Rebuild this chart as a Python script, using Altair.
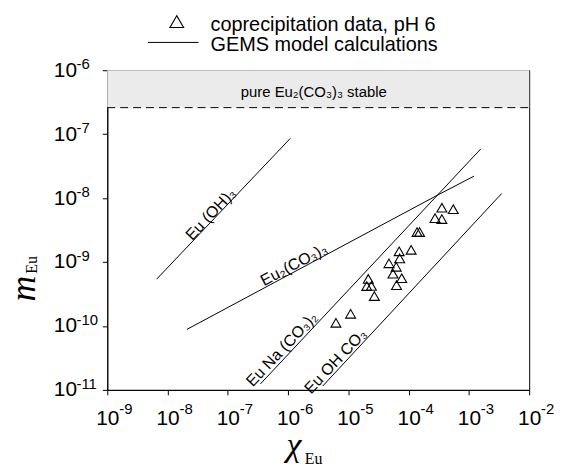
import altair as alt
import pandas as pd

# ---------------- data ----------------
x_ticks = [1e-9, 1e-8, 1e-7, 1e-6, 1e-5, 1e-4, 1e-3, 1e-2]
x_exponents = ["-9", "-8", "-7", "-6", "-5", "-4", "-3", "-2"]
y_ticks = [1e-11, 1e-10, 1e-9, 1e-8, 1e-7, 1e-6]
y_exponents = ["-11", "-10", "-9", "-8", "-7", "-6"]

# GEMS model lines
eu_oh3_x = [6.6e-9, 1.09e-6]
eu_oh3_y = [5.4e-10, 8.6e-8]
eu2co3_x = [2.1e-8, 2.95e-4, 1.21e-3]
eu2co3_y = [8.85e-11, 1.1e-8, 2.2e-8]
euna_x = [3.48e-7, 1.58e-3]
euna_y = [1.24e-11, 5.9e-8]
euohco3_x = [3.76e-6, 3.5e-3]
euohco3_y = [1.15e-11, 1.18e-8]

# coprecipitation data, pH 6
data_x = [3.56e-4, 5.5e-4, 2.74e-4, 3.56e-4, 1.38e-4, 1.52e-4, 6.97e-5, 1.10e-4,
          7.1e-5, 4.72e-5, 6.22e-5, 5.5e-5, 7.67e-5, 6.3e-5, 2.14e-5, 2.02e-5,
          2.41e-5, 2.7e-5, 1.09e-5, 6.22e-6]
data_y = [7.07e-9, 6.7e-9, 4.86e-9, 4.69e-9, 2.94e-9, 2.94e-9, 1.47e-9, 1.55e-9,
          1.14e-9, 9.55e-10, 8.42e-10, 6.56e-10, 5.58e-10, 4.35e-10, 5.44e-10, 4.2e-10,
          4.22e-10, 2.93e-10, 1.55e-10, 1.12e-10]

# stability band of pure Eu2(CO3)3
band_lo = [2.6e-7]
band_hi = [1e-6]

# line labels (text, x, y in data units)
label_texts = ["Eu (OH)₃", "Eu₂(CO₃)₃", "Eu Na (CO₃)₂", "Eu OH CO₃"]
label_x = [5.2e-8, 1.25e-6, 7.9e-7, 6.15e-6]
label_y = [5.6e-9, 9.06e-10, 4.3e-11, 2.8e-11]
label_angles = [313.3, 332.1, 313.3, 313.3]

# ---------------- build chart ----------------
W, H = 425, 322
FONT = "Liberation Sans"
SERIF = "Liberation Serif"

xscale = alt.Scale(type="log", domain=[1e-9, 1e-2], nice=False)
yscale = alt.Scale(type="log", domain=[1e-11, 1e-6], nice=False)
xaxis = alt.Axis(values=x_ticks, labelExpr="'10'", title=None, labelAlign="center",
                 labelFlush=False, labelOverlap=False, labelPadding=13)
yaxis = alt.Axis(values=y_ticks, labelExpr="'10'", title=None, labelAlign="right",
                 labelFlush=False, labelOverlap=False, labelPadding=26)

series, lx, ly, order = [], [], [], []
for name, xs, ys in [("Eu(OH)3", eu_oh3_x, eu_oh3_y), ("Eu2(CO3)3", eu2co3_x, eu2co3_y),
                     ("EuNa(CO3)2", euna_x, euna_y), ("EuOHCO3", euohco3_x, euohco3_y)]:
    for i, (a, b) in enumerate(zip(xs, ys)):
        series.append(name)
        lx.append(a)
        ly.append(b)
        order.append(i)
lines_df = pd.DataFrame({"series": series, "x": lx, "y": ly, "i": order})
pts_df = pd.DataFrame({"x": data_x, "y": data_y})
band_df = pd.DataFrame({"lo": band_lo, "hi": band_hi})
xexp_df = pd.DataFrame({"v": x_ticks, "t": x_exponents})
yexp_df = pd.DataFrame({"v": y_ticks, "t": y_exponents})

band = alt.Chart(band_df).mark_rect(color="#ebebeb").encode(
    y=alt.Y("lo:Q", scale=yscale, axis=yaxis), y2="hi:Q",
    x=alt.value(0), x2=alt.value(W))
dash = alt.Chart(band_df).mark_rule(color="black", strokeWidth=1, strokeDash=[8, 5]).encode(
    y=alt.Y("lo:Q", scale=yscale), x=alt.value(0), x2=alt.value(W))
band_text = alt.Chart(band_df).mark_text(text="pure Eu₂(CO₃)₃ stable", font=FONT, fontSize=15,
                                         color="black", baseline="alphabetic").encode(
    x=alt.value(208), y=alt.value(27))

lines = alt.Chart(lines_df).mark_line(color="black", strokeWidth=1).encode(
    x=alt.X("x:Q", scale=xscale, axis=xaxis),
    y=alt.Y("y:Q", scale=yscale, axis=yaxis),
    detail="series:N", order="i:Q")

points = alt.Chart(pts_df).mark_point(shape="triangle-up", filled=False, color="black",
                                      size=100, strokeWidth=1.1, opacity=1).encode(
    x=alt.X("x:Q", scale=xscale), y=alt.Y("y:Q", scale=yscale))

# exponents of the tick labels (superscripts)
xexp = alt.Chart(xexp_df).mark_text(font=FONT, fontSize=15, color="black", align="left",
                                    baseline="alphabetic", dx=12).encode(
    x=alt.X("v:Q", scale=xscale), y=alt.value(346), text="t:N")
yexp = alt.Chart(yexp_df).mark_text(font=FONT, fontSize=15, color="black", align="left",
                                    baseline="alphabetic", dy=-1).encode(
    y=alt.Y("v:Q", scale=yscale), x=alt.value(-31), text="t:N")

layers = [band, dash, band_text, lines, points, xexp, yexp]

for t, xv, yv, ang in zip(label_texts, label_x, label_y, label_angles):
    d = pd.DataFrame({"x": [xv], "y": [yv]})
    layers.append(alt.Chart(d).mark_text(text=t, font=FONT, fontSize=16, color="black",
                                         angle=ang, baseline="middle", align="center").encode(
        x=alt.X("x:Q", scale=xscale), y=alt.Y("y:Q", scale=yscale)))

# legend (drawn in pixel space above plot)
leg_df = pd.DataFrame({"k": [0]})
layers.append(alt.Chart(leg_df).mark_point(shape="triangle-up", filled=False, color="black",
                                           size=190, strokeWidth=1.1, opacity=1).encode(
    x=alt.value(70), y=alt.value(-49)))
layers.append(alt.Chart(leg_df).mark_rule(color="black", strokeWidth=1).encode(
    x=alt.value(41), x2=alt.value(92), y=alt.value(-28)))
layers.append(alt.Chart(leg_df).mark_text(text="coprecipitation data, pH 6", font=FONT, fontSize=20,
                                          color="black", align="left", baseline="alphabetic").encode(
    x=alt.value(104), y=alt.value(-40)))
layers.append(alt.Chart(leg_df).mark_text(text="GEMS model calculations", font=FONT, fontSize=20,
                                          color="black", align="left", baseline="alphabetic").encode(
    x=alt.value(104), y=alt.value(-19)))

# axis titles
layers.append(alt.Chart(leg_df).mark_text(text="χ", font=SERIF, fontStyle="italic", fontSize=34,
                                          color="black", align="center", baseline="alphabetic").encode(
    x=alt.value(188), y=alt.value(389)))
layers.append(alt.Chart(leg_df).mark_text(text="Eu", font=SERIF, fontSize=16,
                                          color="black", align="left", baseline="alphabetic").encode(
    x=alt.value(199), y=alt.value(397)))
layers.append(alt.Chart(leg_df).mark_text(text="m", font=SERIF, fontStyle="italic", fontSize=36,
                                          color="black", align="center", baseline="alphabetic",
                                          angle=270).encode(
    x=alt.value(-73), y=alt.value(220)))
layers.append(alt.Chart(leg_df).mark_text(text="Eu", font=SERIF, fontSize=16,
                                          color="black", align="left", baseline="alphabetic",
                                          angle=270).encode(
    x=alt.value(-71), y=alt.value(205)))

chart = alt.layer(*layers).properties(
    width=W, height=H,
    padding={"left": 100, "top": 61, "right": 25, "bottom": 76},
    autosize=alt.AutoSizeParams(type="none"),
).configure_view(stroke="black", strokeWidth=1).configure_axis(
    domainColor="black", tickColor="black", labelColor="black", grid=False,
    labelFont=FONT, labelFontSize=21, tickSize=5, domainWidth=1, tickWidth=1,
)

chart.save("out.html", embed_options={"renderer": "svg", "actions": False})
